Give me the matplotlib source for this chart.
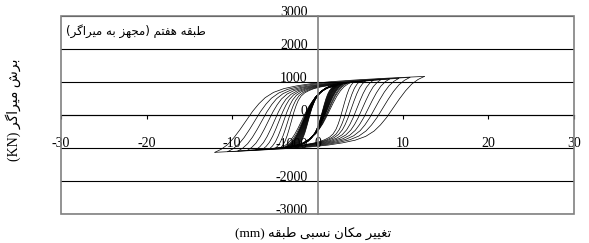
import matplotlib.pyplot as plt
import matplotlib.transforms as mtransforms
from matplotlib.patches import Rectangle
import numpy as np

# hysteresis cycles (peak displacement mm / peak force kN)
# large cycles
wide_pos = [12.5, 10.8, 9.5, 8.4, 7.4, 6.5, 5.6, 4.9, 4.2]
wide_neg = [-12.0, -10.5, -9.3, -8.2, -7.2, -6.4, -5.6, -4.9, -4.3]
wide_fpos = [1170, 1140, 1110, 1090, 1070, 1050, 1030, 1010, 990]
wide_fneg = [-1130, -1110, -1090, -1070, -1050, -1035, -1020, -1005, -990]
# small, densely repeated cycles around the origin
small_pos = [3.9, 3.6, 3.4, 3.2, 3.1, 3.0, 2.9, 2.8, 2.7, 2.6, 2.5, 2.4, 2.3, 2.2, 2.1, 2.0, 1.9, 1.8]
small_neg = [-4.3, -4.0, -3.8, -3.7, -3.6, -3.5, -3.4, -3.3, -3.2, -3.1, -3.0, -2.9, -2.8, -2.7, -2.6, -2.5, -2.4, -2.3]
small_fpos = [990, 985, 975, 970, 965, 960, 955, 950, 945, 940, 930, 920, 910, 900, 890, 880, 870, 860]
small_fneg = [-1000, -995, -990, -985, -980, -975, -970, -965, -960, -955, -950, -945, -940, -935, -930, -925, -920, -915]

# half-cycle branch shapes (fraction of span / fraction of force range)
wide_u = [0, 0.03, 0.06, 0.09, 0.12, 0.15, 0.18, 0.21, 0.24, 0.28, 0.33, 0.39, 0.46, 0.55, 0.68, 0.83, 1.0]
wide_f = [0, 0.04, 0.10, 0.19, 0.30, 0.42, 0.54, 0.64, 0.72, 0.79, 0.84, 0.875, 0.905, 0.93, 0.955, 0.978, 1.0]
lens_u = [0, 0.05, 0.1, 0.15, 0.2, 0.25, 0.3, 0.35, 0.4, 0.45, 0.5, 0.6, 0.7, 0.8, 0.9, 1.0]
lens_f = [0, 0.03, 0.07, 0.13, 0.21, 0.31, 0.42, 0.53, 0.63, 0.71, 0.78, 0.87, 0.93, 0.965, 0.985, 1.0]

x_ticks = [-30, -20, -10, 0, 10, 20, 30]
y_ticks = [-3000, -2000, -1000, 0, 1000, 2000, 3000]

title_fa = 'طبقه هفتم (مجهز به میراگر)'
ylabel_fa = 'برش میراگر'
xlabel_fa = 'تغییر مکان نسبی طبقه'

# minimal Persian shaping (matplotlib has no complex text layout)
FORMS = {
    'ا': ('\uFE8D', '\uFE8E', None, None),
    'ب': ('\uFE8F', '\uFE90', '\uFE91', '\uFE92'),
    'ت': ('\uFE95', '\uFE96', '\uFE97', '\uFE98'),
    'ج': ('\uFE9D', '\uFE9E', '\uFE9F', '\uFEA0'),
    'ر': ('\uFEAD', '\uFEAE', None, None),
    'ز': ('\uFEAF', '\uFEB0', None, None),
    'س': ('\uFEB1', '\uFEB2', '\uFEB3', '\uFEB4'),
    'ش': ('\uFEB5', '\uFEB6', '\uFEB7', '\uFEB8'),
    'ط': ('\uFEC1', '\uFEC2', '\uFEC3', '\uFEC4'),
    'غ': ('\uFECD', '\uFECE', '\uFECF', '\uFED0'),
    'ف': ('\uFED1', '\uFED2', '\uFED3', '\uFED4'),
    'ق': ('\uFED5', '\uFED6', '\uFED7', '\uFED8'),
    'ل': ('\uFEDD', '\uFEDE', '\uFEDF', '\uFEE0'),
    'م': ('\uFEE1', '\uFEE2', '\uFEE3', '\uFEE4'),
    'ن': ('\uFEE5', '\uFEE6', '\uFEE7', '\uFEE8'),
    'ه': ('\uFEE9', '\uFEEA', '\uFEEB', '\uFEEC'),
    'ی': ('\uFBFC', '\uFBFD', '\uFBFE', '\uFBFF'),
    'ک': ('\uFB8E', '\uFB8F', '\uFB90', '\uFB91'),
    'گ': ('\uFB92', '\uFB93', '\uFB94', '\uFB95'),
}


def rtl(s):
    out = []
    for i, c in enumerate(s):
        if c not in FORMS:
            out.append(c)
            continue
        iso, fin, ini, med = FORMS[c]
        prev = s[i - 1] if i > 0 else ''
        nxt = s[i + 1] if i + 1 < len(s) else ''
        jp = prev in FORMS and FORMS[prev][2] is not None
        jn = ini is not None and nxt in FORMS
        out.append(med if (jp and jn) else fin if jp else ini if jn else iso)
    return ''.join(out)[::-1].translate(str.maketrans('()', ')('))


def draw_loops(ax, pos, neg, fpos, fneg, bu, bf):
    u, f = np.array(bu), np.array(bf)
    for xp, xn, fp, fn in zip(pos, neg, fpos, fneg):
        span, frange = xp - xn, fp - fn
        ax.plot(xn + u * span, fn + f * frange, color='black', lw=0.5)  # loading
        ax.plot(xp - u * span, fp - f * frange, color='black', lw=0.5)  # unloading


plt.rcParams['font.family'] = ['Liberation Serif', 'DejaVu Sans']

fig, ax = plt.subplots(figsize=(5.89, 2.43), dpi=100)
fig.subplots_adjust(left=0.1036, right=0.9745, bottom=0.1193, top=0.934)

draw_loops(ax, wide_pos, wide_neg, wide_fpos, wide_fneg, wide_u, wide_f)
draw_loops(ax, small_pos, small_neg, small_fpos, small_fneg, lens_u, lens_f)

ax.set_xlim(-30, 30)
ax.set_ylim(-3000, 3000)
for yv in y_ticks:
    ax.axhline(yv, color='black', lw=0.8, zorder=0)

ax.spines['top'].set_visible(False)
ax.spines['right'].set_visible(False)
ax.spines['left'].set_position(('data', 0))
ax.spines['left'].set_color('#808080')
ax.spines['left'].set_linewidth(1.2)
ax.spines['bottom'].set_position(('data', 0))
ax.spines['bottom'].set_color('black')
ax.spines['bottom'].set_linewidth(0.8)
ax.add_patch(Rectangle((0, 0), 1, 1, transform=ax.transAxes, fill=False,
                       ec='#808080', lw=1.2, clip_on=False, zorder=3))

ax.set_xticks(x_ticks, [str(v) for v in x_ticks])
ax.set_yticks(y_ticks, [str(v) for v in y_ticks])
ax.tick_params(axis='x', direction='out', length=3, width=0.8, pad=13, labelsize=10)
ax.tick_params(axis='y', length=0, pad=7, labelsize=10)
shift = mtransforms.ScaledTranslation(0, 3.5 / 72, fig.dpi_scale_trans)
for lbl in ax.get_yticklabels():
    lbl.set_transform(lbl.get_transform() + shift)

ax.text(0.01, 0.925, rtl(title_fa), transform=ax.transAxes, ha='left', va='center',
        fontsize=8.5, family='DejaVu Sans')
fig.text(13 / 589, 1 - 110 / 243, '(KN) ' + rtl(ylabel_fa), rotation=90,
         ha='center', va='center', fontsize=10)
fig.text(313 / 589, 1 - 233 / 243, '(mm) ' + rtl(xlabel_fa),
         ha='center', va='center', fontsize=9.5)

fig.savefig('out.png', dpi=100)
